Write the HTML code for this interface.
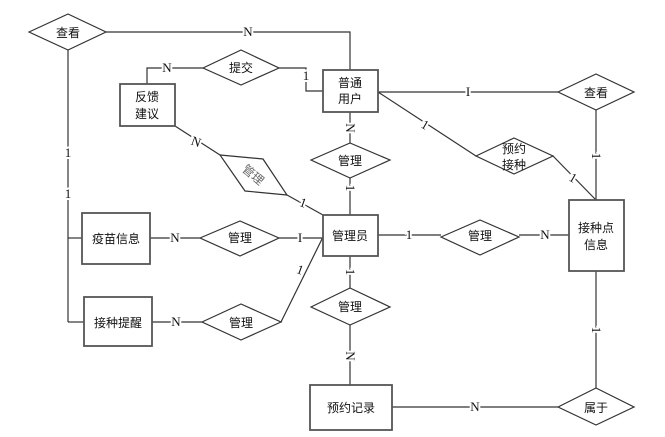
<!DOCTYPE html>
<html><head><meta charset="utf-8"><style>body{margin:0;background:#fff}svg{display:block}</style></head><body>
<svg width="665" height="437" viewBox="0 0 665 437" xmlns="http://www.w3.org/2000/svg" font-family="'Liberation Serif','Noto Sans CJK SC',serif">
<g stroke="#333" stroke-width="1.2" fill="none">
<polyline points="106,32 350,32 350,70"/>
<line x1="68" y1="50" x2="68" y2="322"/>
<line x1="68" y1="238" x2="82" y2="238"/>
<line x1="68" y1="322" x2="84" y2="322"/>
<polyline points="147,84 147,68 203,68"/>
<polyline points="279,68 306,68 306,91 323,91"/>
<line x1="175" y1="126" x2="220" y2="155"/>
<line x1="287" y1="195" x2="323" y2="215"/>
<line x1="350" y1="112" x2="350" y2="143"/>
<line x1="350" y1="178" x2="350" y2="215"/>
<line x1="378" y1="92" x2="558" y2="92"/>
<line x1="596" y1="110" x2="596" y2="200"/>
<line x1="378" y1="92" x2="476" y2="156"/>
<line x1="553" y1="156" x2="596" y2="200"/>
<line x1="150" y1="238" x2="200" y2="238"/>
<line x1="279" y1="238" x2="323" y2="238"/>
<line x1="152" y1="322" x2="202" y2="322"/>
<line x1="281" y1="322" x2="323" y2="237"/>
<line x1="378" y1="235" x2="441" y2="235"/>
<line x1="519" y1="235" x2="569" y2="235"/>
<line x1="350" y1="256" x2="350" y2="288"/>
<line x1="350" y1="325" x2="350" y2="385"/>
<line x1="392" y1="407" x2="558" y2="407"/>
<line x1="596" y1="271" x2="596" y2="388"/>
</g>
<g stroke="#333" stroke-width="1.2" fill="#fff">
<polygon points="29,32 68,14 106,32 68,50"/>
<polygon points="203,68 241,50 279,68 241,85"/>
<polygon points="220,155 263,159 287,195 245,191"/>
<polygon points="311,160 350,143 390,160 350,178"/>
<polygon points="558,92 596,74 634,92 596,110"/>
<polygon points="476,156 514,138 553,156 514,174"/>
<polygon points="200,238 240,221 279,238 240,256"/>
<polygon points="202,322 241,304 281,322 241,340"/>
<polygon points="441,237 480,220 519,237 480,255"/>
<polygon points="311,307 350,288 390,307 350,325"/>
<polygon points="558,407 596,388 634,407 596,425"/>
</g>
<g stroke="#555" stroke-width="1.8" fill="#fff">
<rect x="323" y="70" width="55" height="42"/>
<rect x="120" y="84" width="55" height="42"/>
<rect x="323" y="215" width="55" height="41"/>
<rect x="569" y="200" width="55" height="71"/>
<rect x="82" y="213" width="68" height="51"/>
<rect x="84" y="297" width="68" height="49"/>
<rect x="310" y="385" width="82" height="45"/>
</g>
<g font-size="12" text-anchor="middle" fill="#111">
<text x="68" y="37">查看</text>
<text x="241" y="72">提交</text>
<text x="350" y="87">普通</text><text x="350" y="103">用户</text>
<text x="147" y="101">反馈</text><text x="147" y="118">建议</text>
<text x="253" y="179" fill="#666" transform="rotate(40 253 175)">管理</text>
<text x="350" y="165">管理</text>
<text x="596" y="97">查看</text>
<text x="514" y="153">预约</text><text x="514" y="169">接种</text>
<text x="350" y="240">管理员</text>
<text x="596" y="232">接种点</text><text x="596" y="249">信息</text>
<text x="116" y="243">疫苗信息</text>
<text x="118" y="327">接种提醒</text>
<text x="240" y="242">管理</text>
<text x="241" y="327">管理</text>
<text x="480" y="240">管理</text>
<text x="350" y="311">管理</text>
<text x="351" y="412">预约记录</text>
<text x="596" y="412">属于</text>
</g>
<g font-size="13" text-anchor="middle" fill="#111" stroke="#fff" stroke-width="4" paint-order="stroke" font-family="'Liberation Serif',serif">
<text x="248" y="36">N</text>
<text x="167" y="72">N</text>
<text x="306" y="80">1</text>
<text x="68" y="157">1</text>
<text x="68" y="198">1</text>
<text x="196" y="146" transform="rotate(20 196 142)">N</text>
<text x="303" y="207" transform="rotate(20 303 203)">1</text>
<text x="350" y="132" transform="rotate(90 350 128)">N</text>
<text x="350" y="192" transform="rotate(90 350 188)">1</text>
<text x="468" y="96">I</text>
<text x="425" y="129" transform="rotate(30 425 125)">1</text>
<text x="573" y="182" transform="rotate(30 573 178)">1</text>
<text x="596" y="160" transform="rotate(90 596 156)">1</text>
<text x="175" y="242">N</text>
<text x="300" y="242">I</text>
<text x="176" y="326">N</text>
<text x="300" y="274" transform="rotate(20 300 270)">1</text>
<text x="409" y="239">1</text>
<text x="545" y="239">N</text>
<text x="350" y="276" transform="rotate(90 350 272)">1</text>
<text x="350" y="360" transform="rotate(90 350 356)">N</text>
<text x="475" y="411">N</text>
<text x="596" y="334" transform="rotate(90 596 330)">1</text>
</g>
</svg>
</body></html>
